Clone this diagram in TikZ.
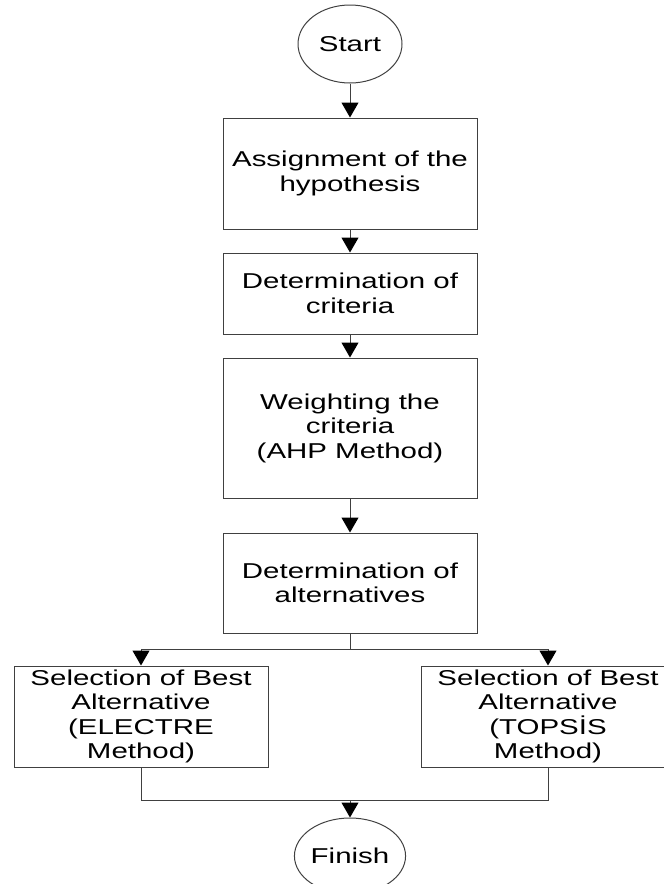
\documentclass[tikz,border=0pt]{standalone}
\usepackage{fontspec}
\newfontfamily\flowfont[FakeStretch=1.37]{Liberation Sans}
\usetikzlibrary{arrows.meta,shapes.geometric}
\begin{document}
\begin{tikzpicture}[x=1pt,y=-1pt,
  every node/.style={font=\flowfont\fontsize{21.5}{24.5}\selectfont, align=center, text=black, inner sep=0pt},
  stepbox/.style={draw=black!75, line width=1pt, rectangle, minimum width=254pt},
  termin/.style={draw=black!75, line width=1pt, ellipse, minimum width=104pt, minimum height=78pt},
  conn/.style={draw=black!75, line width=1pt},
  arr/.style={conn, -{Triangle[width=17pt,length=15pt,color=black]}}]
\clip (0,0) rectangle (664,884);
\useasboundingbox (0,0) rectangle (664,884);
\node[termin] (start) at (350,44) {Start};
\node[stepbox, minimum height=111pt] (b1) at (350,173.5) {Assignment of the\\hypothesis};
\node[stepbox, minimum height=81pt] (b2) at (350,293.5) {Determination of\\criteria};
\node[stepbox, minimum height=140pt] (b3) at (350,428) {Weighting the\\criteria\\(AHP Method)};
\node[stepbox, minimum height=100pt] (b4) at (350,583) {Determination of\\alternatives};
\node[stepbox, minimum height=101pt] (bl) at (141,716.5) {Selection of Best\\Alternative\\(ELECTRE\\Method)};
\node[stepbox, minimum height=101pt] (br) at (548,716.5) {Selection of Best\\Alternative\\(TOPS\.{I}S\\Method)};
\node[termin, minimum height=76pt] (finish) at (350,856) {Finish};
\coordinate (split) at (350,649);
\coordinate (join) at (350,800);
\draw[arr] (start) -- (b1);
\draw[arr] (b1) -- (b2);
\draw[arr] (b2) -- (b3);
\draw[arr] (b3) -- (b4);
\draw[conn] (b4) -- (split);
\draw[arr] (split) -| (bl);
\draw[arr] (split) -| (br);
\draw[conn] (bl) |- (join);
\draw[conn] (br) |- (join);
\draw[arr] (join) -- (finish);
\end{tikzpicture}
\end{document}
